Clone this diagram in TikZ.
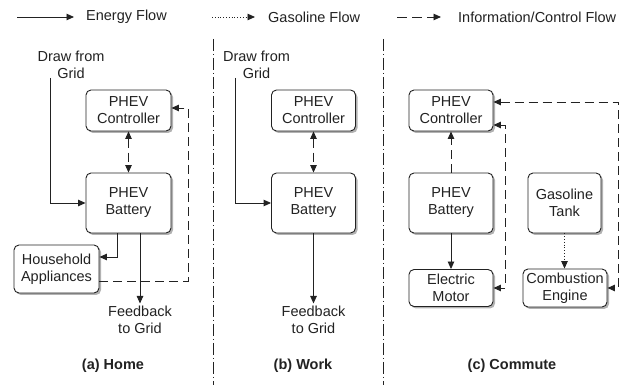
\documentclass[tikz,border=0pt]{standalone}
\usepackage{fontspec}
\setmainfont{Liberation Sans}
\usetikzlibrary{arrows.meta,shadows,calc}
\definecolor{ink}{HTML}{222222}
\tikzset{
  >={Triangle[length=7.5pt,width=6.5pt]},
  box/.style={draw=ink, line width=0.9pt, rounded corners=5pt, fill=white, align=center,
    inner sep=1pt, text=ink,
    drop shadow={shadow xshift=2pt, shadow yshift=-2pt, opacity=0.3, fill=black}},
  lbl/.style={align=center, text=ink, inner sep=2pt},
  energy/.style={draw=ink, line width=0.9pt, ->},
  gas/.style={draw=ink, line width=0.9pt, dash pattern=on 1pt off 1.8pt, ->},
  info/.style={draw=ink, line width=0.9pt, dash pattern=on 9pt off 5pt, ->},
  sep/.style={draw=ink, line width=0.8pt, dash pattern=on 12pt off 3pt on 1pt off 3pt},
  captxt/.style={font=\fontsize{14.5}{17}\selectfont\bfseries, text=ink, inner sep=0pt},
  leg/.style={anchor=west, text=ink, inner sep=0pt}
}
\begin{document}
\begin{tikzpicture}[x=1pt,y=1pt,font=\fontsize{14.5}{17}\selectfont]
\useasboundingbox (0,0) rectangle (629,385);
\fill[white] (0,0) rectangle (629,385);

% legend
\coordinate (l1a) at (17,368); \coordinate (l1b) at (74,368);
\draw[energy] (l1a) -- (l1b);
\node[leg] (lt1) at (86,368) {Energy Flow};
\coordinate (l2a) at (212,368); \coordinate (l2b) at (255,368);
\draw[gas] (l2a) -- (l2b);
\node[leg] (lt2) at (268,368) {Gasoline Flow};
\coordinate (l3a) at (397,368); \coordinate (l3b) at (441,368);
\draw[info, dash pattern=on 10pt off 5pt] (l3a) -- (l3b);
\node[leg] (lt3) at (458,368) {Information/Control Flow};

% separators
\coordinate (s1a) at (213,346); \coordinate (s1b) at (213,0);
\coordinate (s2a) at (383,346); \coordinate (s2b) at (383,0);
\draw[sep] (s1a) -- (s1b);
\draw[sep] (s2a) -- (s2b);

% ---------- (a) Home ----------
\node[box, minimum width=85pt, minimum height=41pt] (hctrl) at (128.5,274.5) {PHEV\\Controller};
\node[box, minimum width=85pt, minimum height=60pt] (hbatt) at (128.5,182) {PHEV\\Battery};
\node[box, minimum width=85pt, minimum height=48pt] (hhouse) at (56.5,116) {Household\\Appliances};
\node[lbl] (hdraw) at (71,320.5) {Draw from\\Grid};
\coordinate (hgrid) at (50,307);
\draw[energy] (hgrid) |- (hbatt.west);
\draw[info, <->] (hctrl.south) -- (hbatt.north);
\draw[energy] ([xshift=-11.5pt]hbatt.south) |- ([yshift=12pt]hhouse.east);
\node[lbl] (hfb) at (140,65.5) {Feedback\\to Grid};
\draw[energy] (hbatt.south -| hfb.north) -- (hfb.north);
\draw[info] ([yshift=-12pt]hhouse.east) -| ([xshift=17pt,yshift=2.5pt]hctrl.east) -- ([yshift=2.5pt]hctrl.east);
\node[captxt] (hcap) at (113,19) {(a) Home};

% ---------- (b) Work ----------
\node[box, minimum width=84pt, minimum height=41pt] (wctrl) at (313.5,274.5) {PHEV\\Controller};
\node[box, minimum width=84pt, minimum height=60pt] (wbatt) at (313.5,182) {PHEV\\Battery};
\node[lbl] (wdraw) at (256.5,320.5) {Draw from\\Grid};
\coordinate (wgrid) at (235,307);
\draw[energy] (wgrid) |- (wbatt.west);
\draw[info, <->] (wctrl.south) -- (wbatt.north);
\node[lbl] (wfb) at (313.5,65.5) {Feedback\\to Grid};
\draw[energy] (wbatt.south) -- (wfb.north);
\node[captxt] (wcap) at (303,19) {(b) Work};

% ---------- (c) Commute ----------
\node[box, minimum width=84pt, minimum height=41pt] (cctrl) at (451,274.5) {PHEV\\Controller};
\node[box, minimum width=84pt, minimum height=60pt] (cbatt) at (451,182) {PHEV\\Battery};
\node[box, minimum width=73pt, minimum height=60pt] (ctank) at (564.5,182) {Gasoline\\Tank};
\node[box, minimum width=84pt, minimum height=37pt] (cmotor) at (451,97) {Electric\\Motor};
\node[box, minimum width=84pt, minimum height=38pt] (ceng) at (565,97) {Combustion\\Engine};
\draw[info] (cbatt.north) -- (cctrl.south);
\draw[energy] (cbatt.south) -- (cmotor.north);
\draw[gas] (ctank.south) -- (ctank.south |- ceng.north);
\draw[info, <->] ([yshift=-14.5pt]cctrl.east) -| ([xshift=12pt]cmotor.east) -- (cmotor.east);
\draw[info, <->] ([yshift=8.5pt]cctrl.east) -| ([xshift=11pt]ceng.east) -- (ceng.east);
\node[captxt] (ccap) at (512,19) {(c) Commute};
\end{tikzpicture}
\end{document}
